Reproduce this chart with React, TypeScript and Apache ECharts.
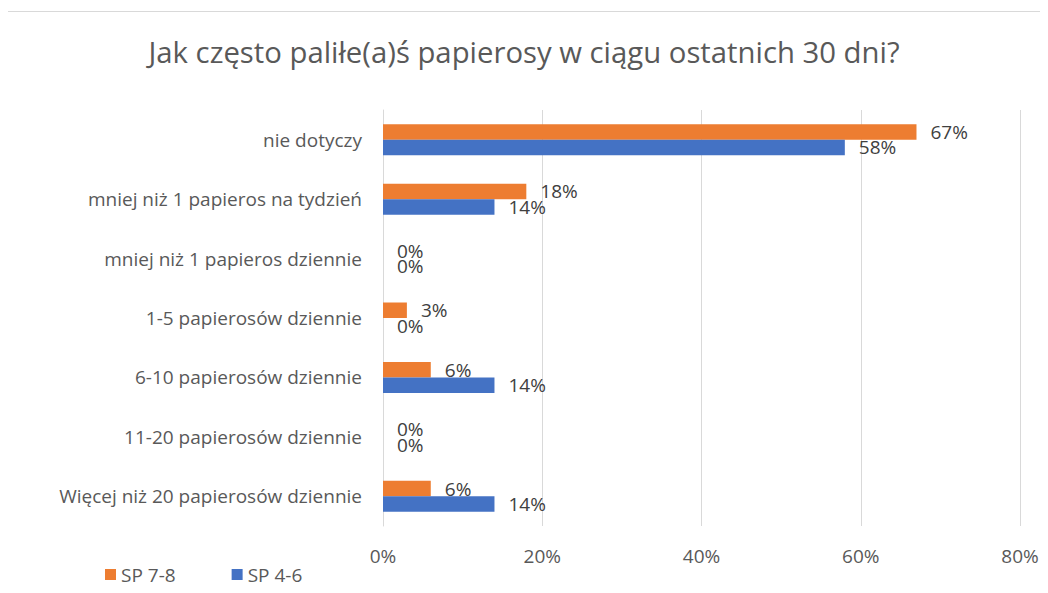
import React, { useEffect, useRef } from "react";
import * as echarts from "echarts";

const title = "Jak często paliłe(a)ś papierosy w ciągu ostatnich 30 dni?";
const categories = [
  "nie dotyczy",
  "mniej niż 1 papieros na tydzień",
  "mniej niż 1 papieros dziennie",
  "1-5 papierosów dziennie",
  "6-10 papierosów dziennie",
  "11-20 papierosów dziennie",
  "Więcej niż 20 papierosów dziennie",
];
const seriesNames = ["SP 7-8", "SP 4-6"];
const sp78 = [67, 18, 0, 3, 6, 0, 6];
const sp46 = [58, 14, 0, 0, 14, 0, 14];
const xTicks = [0, 20, 40, 60, 80];

const FONT = "Open Sans";
const FS = 19;

export default function App() {
  const ref = useRef<HTMLDivElement>(null);
  useEffect(() => {
    if (!ref.current) return;
    const chart = echarts.init(ref.current, undefined, { renderer: "svg" });
    const label = {
      show: true,
      position: "right",
      distance: 14,
      formatter: "{c}%",
      color: "#404040",
      fontSize: FS,
      fontFamily: FONT,
    };
    chart.setOption({
      animation: false,
      backgroundColor: "#ffffff",
      title: {
        text: title,
        left: "center",
        top: 32,
        textStyle: { color: "#595959", fontSize: 29.3, fontWeight: "normal", fontFamily: FONT },
      },
      graphic: [
        {
          type: "rect",
          shape: { x: 4.5, y: 11.5, width: 1100, height: 700 },
          style: { fill: "none", stroke: "#d9d9d9", lineWidth: 1 },
          silent: true,
        },
      ],
      legend: {
        data: seriesNames,
        left: 100,
        top: 560,
        icon: "rect",
        itemWidth: 11,
        itemHeight: 11,
        itemGap: 56,
        textStyle: { color: "#595959", fontSize: FS, fontFamily: FONT },
      },
      grid: { left: 383, right: 28, top: 110, bottom: 67, containLabel: false },
      xAxis: {
        type: "value",
        min: xTicks[0],
        max: xTicks[xTicks.length - 1],
        interval: 20,
        axisLine: { show: false },
        axisTick: { show: false },
        splitLine: { show: true, lineStyle: { color: "#d9d9d9", width: 1 } },
        axisLabel: {
          formatter: "{value}%",
          color: "#595959",
          fontSize: FS,
          fontFamily: FONT,
          margin: 20,
        },
      },
      yAxis: {
        type: "category",
        data: categories,
        inverse: true,
        axisLine: { show: true, lineStyle: { color: "#d9d9d9" } },
        axisTick: { show: false },
        axisLabel: { color: "#595959", fontSize: FS, fontFamily: FONT, margin: 21 },
      },
      series: [
        {
          name: seriesNames[0],
          type: "bar",
          data: sp78,
          barWidth: 15.5,
          barGap: "0%",
          itemStyle: { color: "#ED7D31" },
          label,
        },
        {
          name: seriesNames[1],
          type: "bar",
          data: sp46,
          barWidth: 15.5,
          barGap: "0%",
          itemStyle: { color: "#4472C4" },
          label,
        },
      ],
    });
    return () => chart.dispose();
  }, []);
  return <div ref={ref} style={{ width: 1048, height: 593, margin: -8 }} />;
}
